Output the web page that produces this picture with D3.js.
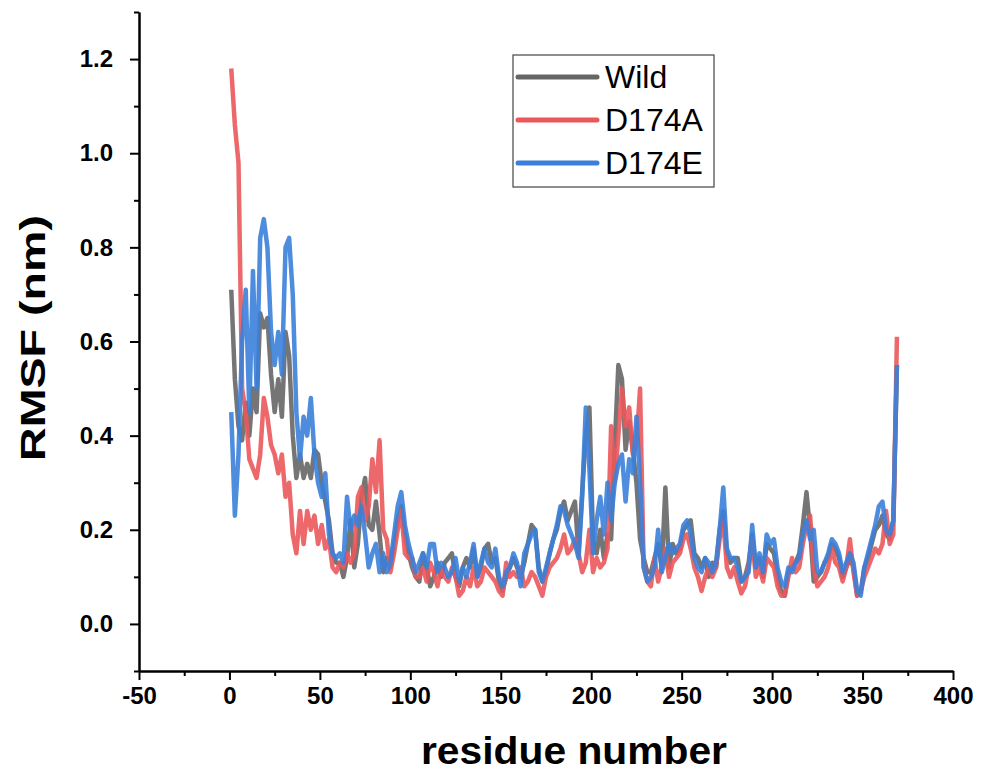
<!DOCTYPE html>
<html lang="en">
<head>
    <meta charset="UTF-8">
    <title>RMSF per residue</title>
    <script src="https://d3js.org/d3.v7.min.js"></script>
    <style>
        body { margin: 0; background: #fff; font-family: 'Liberation Sans', Arial, sans-serif; }
        .axis path, .axis line { stroke: #000; stroke-width: 2; }
        .axis text { font-family: 'Liberation Sans', Arial, sans-serif; font-weight: bold; font-size: 24px; fill: #000; }
    </style>
</head>
<body>
    <svg id="chart" width="987" height="776"></svg>

    <script>
        // residue index, every second residue
        const residues = d3.range(1, 370, 2);

        const wild = [
            0.71,0.52,0.42,0.39,0.47,0.40,0.50,0.45,0.66,0.63,0.65,0.53,0.45,0.52,0.44,0.62,0.57,0.40,0.31,0.36,0.31,0.34,0.31,0.37,0.36,0.30,0.26,0.22,0.15,0.13,
            0.13,0.10,0.14,0.22,0.12,0.17,0.27,0.31,0.21,0.20,0.26,0.19,0.11,0.14,0.12,0.17,0.22,0.25,0.19,0.15,
            0.12,0.10,0.09,0.15,0.12,0.08,0.10,0.13,0.10,0.13,0.14,0.15,0.10,0.08,0.12,0.14,0.12,0.16,0.10,0.12,
            0.16,0.17,0.13,0.14,0.09,0.07,0.10,0.12,0.14,0.12,0.10,0.13,0.17,0.21,0.20,0.12,0.09,0.11,0.15,0.18,0.20,0.24,0.26,0.22,0.24,0.26,0.15,0.28,0.40,0.46,
            0.18,0.15,0.20,0.14,0.19,0.18,0.38,0.55,0.52,0.37,0.43,0.37,0.30,0.18,0.14,0.11,0.11,0.14,0.17,0.12,
            0.29,0.12,0.17,0.15,0.16,0.20,0.21,0.22,0.15,0.14,0.12,0.14,0.10,0.13,0.12,0.20,0.24,0.15,0.13,0.14,0.14,0.09,0.10,0.13,0.19,
            0.12,0.14,0.10,0.17,0.16,0.15,0.10,0.07,0.06,0.11,0.12,0.13,0.15,0.21,0.28,0.20,0.09,0.10,0.11,0.13,0.14,0.17,0.16,0.14,0.10,0.12,0.14,0.12,0.06,0.07,0.12,0.14,0.17,0.20,0.21,0.23,0.19,0.18,0.22,0.55
        ];

        const d174a = [
            1.18,1.06,0.98,0.50,0.45,0.35,0.33,0.31,0.36,0.48,0.44,0.38,0.36,0.32,0.36,0.27,0.30,0.19,0.15,0.24,0.17,0.24,0.20,0.23,0.17,0.21,0.16,0.18,0.12,0.11,
            0.13,0.12,0.15,0.13,0.15,0.27,0.29,0.22,0.25,0.35,0.28,0.39,0.20,0.18,0.11,0.15,0.20,0.24,0.15,0.14,
            0.14,0.10,0.10,0.12,0.09,0.13,0.11,0.08,0.12,0.10,0.09,0.12,0.10,0.06,0.07,0.10,0.08,0.12,0.08,0.09,
            0.12,0.11,0.10,0.09,0.07,0.06,0.13,0.10,0.11,0.10,0.12,0.08,0.09,0.11,0.10,0.08,0.06,0.10,0.12,0.13,0.14,0.16,0.19,0.15,0.16,0.18,0.15,0.11,0.13,0.20,
            0.11,0.14,0.12,0.13,0.16,0.42,0.30,0.40,0.50,0.42,0.46,0.36,0.38,0.50,0.12,0.09,0.08,0.14,0.09,0.12,
            0.16,0.10,0.13,0.14,0.15,0.18,0.19,0.16,0.12,0.10,0.07,0.10,0.12,0.10,0.12,0.18,0.22,0.12,0.10,0.12,0.09,0.065,0.08,0.12,0.18,
            0.10,0.12,0.09,0.14,0.13,0.12,0.08,0.06,0.06,0.10,0.14,0.11,0.12,0.17,0.21,0.23,0.12,0.08,0.09,0.10,0.12,0.16,0.13,0.12,0.09,0.12,0.18,0.11,0.06,0.07,0.10,0.12,0.14,0.16,0.15,0.17,0.24,0.17,0.19,0.61
        ];

        const d174e = [
            0.45,0.23,0.36,0.60,0.71,0.45,0.75,0.50,0.82,0.86,0.80,0.62,0.55,0.62,0.53,0.80,0.82,0.70,0.45,0.35,0.44,0.40,0.48,0.36,0.30,0.27,0.32,0.19,0.15,0.14,
            0.15,0.13,0.27,0.20,0.23,0.21,0.25,0.19,0.12,0.15,0.17,0.11,0.15,0.11,0.13,0.19,0.25,0.28,0.21,0.17,
            0.14,0.11,0.13,0.15,0.12,0.17,0.17,0.11,0.13,0.12,0.10,0.11,0.14,0.09,0.12,0.10,0.13,0.17,0.10,0.13,
            0.16,0.13,0.12,0.16,0.10,0.08,0.11,0.12,0.15,0.13,0.08,0.15,0.17,0.19,0.20,0.11,0.09,0.12,0.15,0.18,0.21,0.25,0.24,0.21,0.19,0.17,0.14,0.27,0.46,0.33,
            0.15,0.22,0.27,0.19,0.30,0.22,0.30,0.34,0.36,0.26,0.35,0.32,0.44,0.30,0.12,0.09,0.10,0.12,0.20,0.11,
            0.14,0.17,0.15,0.16,0.17,0.21,0.22,0.19,0.14,0.12,0.11,0.14,0.13,0.11,0.13,0.20,0.29,0.16,0.14,0.14,0.12,0.09,0.10,0.11,0.21,
            0.12,0.15,0.11,0.19,0.17,0.18,0.12,0.09,0.08,0.12,0.11,0.13,0.14,0.19,0.22,0.18,0.20,0.11,0.11,0.13,0.15,0.18,0.17,0.15,0.11,0.13,0.15,0.13,0.07,0.06,0.12,0.15,0.18,0.21,0.25,0.26,0.20,0.19,0.22,0.55
        ];

        const seriesNames = ["Wild", "D174A", "D174E"];
        const seriesColors = ["#666666", "#ea585b", "#3b7fda"];

        const xMajor = d3.range(-50, 401, 50);
        const xMinor = d3.range(-25, 400, 50);
        const yMajor = [0, 0.2, 0.4, 0.6, 0.8, 1.0, 1.2];
        const yMinor = [-0.1, 0.1, 0.3, 0.5, 0.7, 0.9, 1.1, 1.3];

        const svg = d3.select("#chart");

        const x = d3.scaleLinear().domain([-50, 400]).range([139, 953]);
        const y = d3.scaleLinear().domain([-0.1, 1.3]).range([671, 12]);

        // minor ticks first, major axis on top
        svg.append("g").attr("class", "axis")
            .attr("transform", "translate(0,671)")
            .call(d3.axisBottom(x).tickValues(xMinor).tickSize(5).tickSizeOuter(0).tickFormat(""));
        svg.append("g").attr("class", "axis")
            .attr("transform", "translate(139,0)")
            .call(d3.axisLeft(y).tickValues(yMinor).tickSize(5).tickSizeOuter(0).tickFormat(""));

        // plain hyphen for negatives, like the original
        svg.append("g").attr("class", "axis")
            .attr("transform", "translate(0,671)")
            .call(d3.axisBottom(x).tickValues(xMajor).tickSize(9).tickSizeOuter(0).tickPadding(6).tickFormat(d => String(d)))
            .selectAll("text").attr("dy", "0.75em");
        svg.append("g").attr("class", "axis")
            .attr("transform", "translate(139,0)")
            .call(d3.axisLeft(y).tickValues(yMajor).tickSize(9).tickSizeOuter(0).tickPadding(17).tickFormat(d3.format(".1f")));

        // axis titles (the original picture is a bit stretched, hence textLength)
        svg.append("text")
            .attr("x", 574).attr("y", 764)
            .attr("text-anchor", "middle")
            .attr("font-weight", "bold").attr("font-size", 38)
            .attr("textLength", 306).attr("lengthAdjust", "spacingAndGlyphs")
            .text("residue number");
        svg.append("text")
            .attr("transform", "translate(45,338) rotate(-90)")
            .attr("text-anchor", "middle")
            .attr("font-weight", "bold").attr("font-size", 35)
            .attr("textLength", 246).attr("lengthAdjust", "spacingAndGlyphs")
            .text("RMSF (nm)");

        // lines
        const line = d3.line().x((d, i) => x(residues[i])).y(d => y(d));
        [wild, d174a, d174e].forEach((vals, k) => {
            svg.append("path")
                .datum(vals)
                .attr("d", line)
                .attr("fill", "none")
                .attr("stroke", seriesColors[k])
                .attr("stroke-width", 4.5)
                .attr("stroke-opacity", 0.9)
                .attr("stroke-linejoin", "round");
        });

        // legend
        const legend = svg.append("g");
        legend.append("rect")
            .attr("x", 513).attr("y", 55).attr("width", 201).attr("height", 132)
            .attr("fill", "#fff").attr("stroke", "#444").attr("stroke-width", 1.2);
        seriesNames.forEach((name, i) => {
            const ly = 77 + i * 43;
            legend.append("line")
                .attr("x1", 518).attr("x2", 597).attr("y1", ly).attr("y2", ly)
                .attr("stroke", seriesColors[i]).attr("stroke-width", 5)
                .attr("stroke-linecap", "round");
            legend.append("text")
                .attr("x", 605).attr("y", ly + 11)
                .attr("font-size", 32)
                .text(name);
        });
    </script>
</body>
</html>
